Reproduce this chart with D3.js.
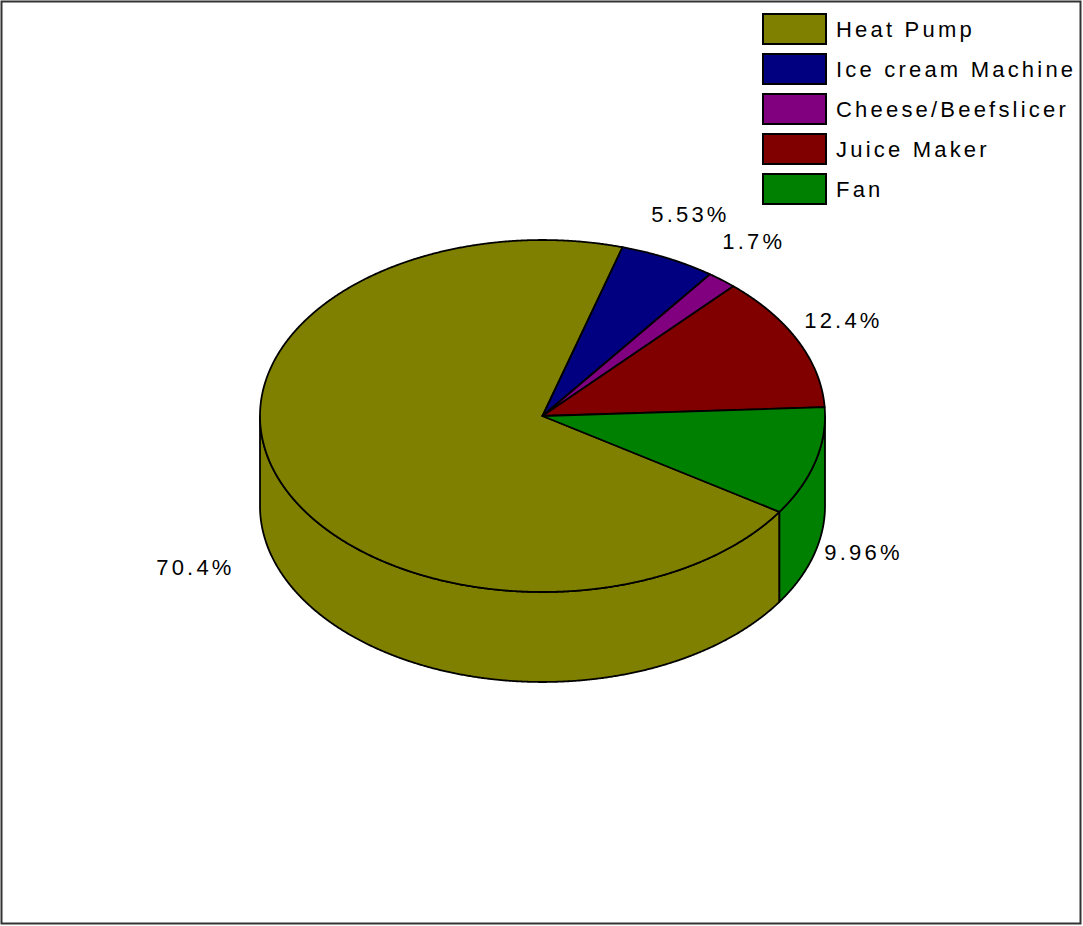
<!DOCTYPE html>
<html>
<head>
<meta charset="utf-8">
<script src="https://cdn.jsdelivr.net/npm/d3@7"></script>
<style>
  html, body { margin: 0; padding: 0; background: #fff; }
  svg { display: block; }
  text { font-family: "Liberation Sans", Arial, sans-serif; }
</style>
</head>
<body>
<svg id="chart" width="1083" height="926"></svg>
<script>
// Appliance energy share
const categories = ["Heat Pump", "Ice cream Machine", "Cheese/Beefslicer", "Juice Maker", "Fan"];
const shares = [70.4, 5.53, 1.7, 12.4, 9.96];
const shareLabels = ["70.4%", "5.53%", "1.7%", "12.4%", "9.96%"];
const colors = ["#808000", "#000080", "#800080", "#800000", "#008000"];

const W = 1083, H = 926;
const svg = d3.select("#chart");

// frame
svg.append("rect")
  .attr("x", 1.5).attr("y", 1.5)
  .attr("width", 1079).attr("height", 922)
  .attr("fill", "#fff").attr("stroke", "#333").attr("stroke-width", 2);

// 3D pie geometry
const cx = 542.5, cy = 416, rx = 282.5, ry = 176, depth = 90;
const start = 123 * Math.PI / 180;

const pie = d3.pie().value(d => d).sort(null)
  .startAngle(start).endAngle(start + 2 * Math.PI);
const arcs = pie(shares).map((a, i) => ({...a, i}));

const ex = t => cx + rx * Math.sin(t);
const ey = t => cy - ry * Math.cos(t);
const line = d3.line();
const step = Math.PI / 720;

function arcPoints(a0, a1, dy) {
  const n = Math.max(2, Math.ceil((a1 - a0) / step));
  return d3.range(n + 1).map(k => {
    const t = a0 + (a1 - a0) * k / n;
    return [ex(t), ey(t) + dy];
  });
}

// side walls (front half of the rim only)
const walls = [];
arcs.forEach(a => {
  for (let k = 0; k < 2; k++) {
    const lo = Math.PI / 2 + 2 * Math.PI * k, hi = 3 * Math.PI / 2 + 2 * Math.PI * k;
    const s = Math.max(a.startAngle, lo), e = Math.min(a.endAngle, hi);
    if (e > s) walls.push({i: a.i, s, e});
  }
});

const gPie = svg.append("g");
gPie.selectAll("path.wall").data(walls).join("path")
  .attr("class", "wall")
  .attr("d", w => {
    const top = arcPoints(w.s, w.e, 0);
    const bottom = arcPoints(w.s, w.e, depth).reverse();
    return line(top.concat(bottom)) + "Z";
  })
  .attr("fill", w => colors[w.i])
  .attr("stroke", "#000").attr("stroke-width", 1.8)
  .attr("stroke-linejoin", "round");

// top faces
gPie.selectAll("path.top").data(arcs).join("path")
  .attr("class", "top")
  .attr("d", a => line([[cx, cy]].concat(arcPoints(a.startAngle, a.endAngle, 0))) + "Z")
  .attr("fill", a => colors[a.i])
  .attr("stroke", "#000").attr("stroke-width", 1.8)
  .attr("stroke-linejoin", "round");

// percentage labels: outside the rim, level with the bottom edge on the front half
const labelGap = 50;
svg.append("g").selectAll("text").data(arcs).join("text")
  .attr("x", a => {
    const m = (a.startAngle + a.endAngle) / 2;
    const push = Math.cos(m) < 0 && Math.sin(m) < 0 ? 1.75 : 1;
    return ex(m) + labelGap * push * Math.sin(m);
  })
  .attr("y", a => {
    const m = (a.startAngle + a.endAngle) / 2;
    return Math.cos(m) < 0 ? ey(m) + depth : ey(m) - labelGap * Math.cos(m);
  })
  .attr("dy", "0.36em")
  .attr("text-anchor", "middle")
  .attr("font-size", 22)
  .attr("letter-spacing", 3.2)
  .attr("fill", "#000")
  .text(a => shareLabels[a.i]);

// legend
const legendY = d3.scaleBand().domain(categories).range([14, 204]).paddingInner(0.25);
const legend = svg.append("g").selectAll("g").data(categories).join("g")
  .attr("transform", d => `translate(763,${legendY(d)})`);
legend.append("rect")
  .attr("width", 63).attr("height", legendY.bandwidth())
  .attr("fill", (d, i) => colors[i])
  .attr("stroke", "#000").attr("stroke-width", 2);
legend.append("text")
  .attr("x", 73).attr("y", legendY.bandwidth() / 2)
  .attr("dy", "0.36em")
  .attr("font-size", 22)
  .attr("letter-spacing", 3.2)
  .attr("fill", "#000")
  .text(d => d);
</script>
</body>
</html>
